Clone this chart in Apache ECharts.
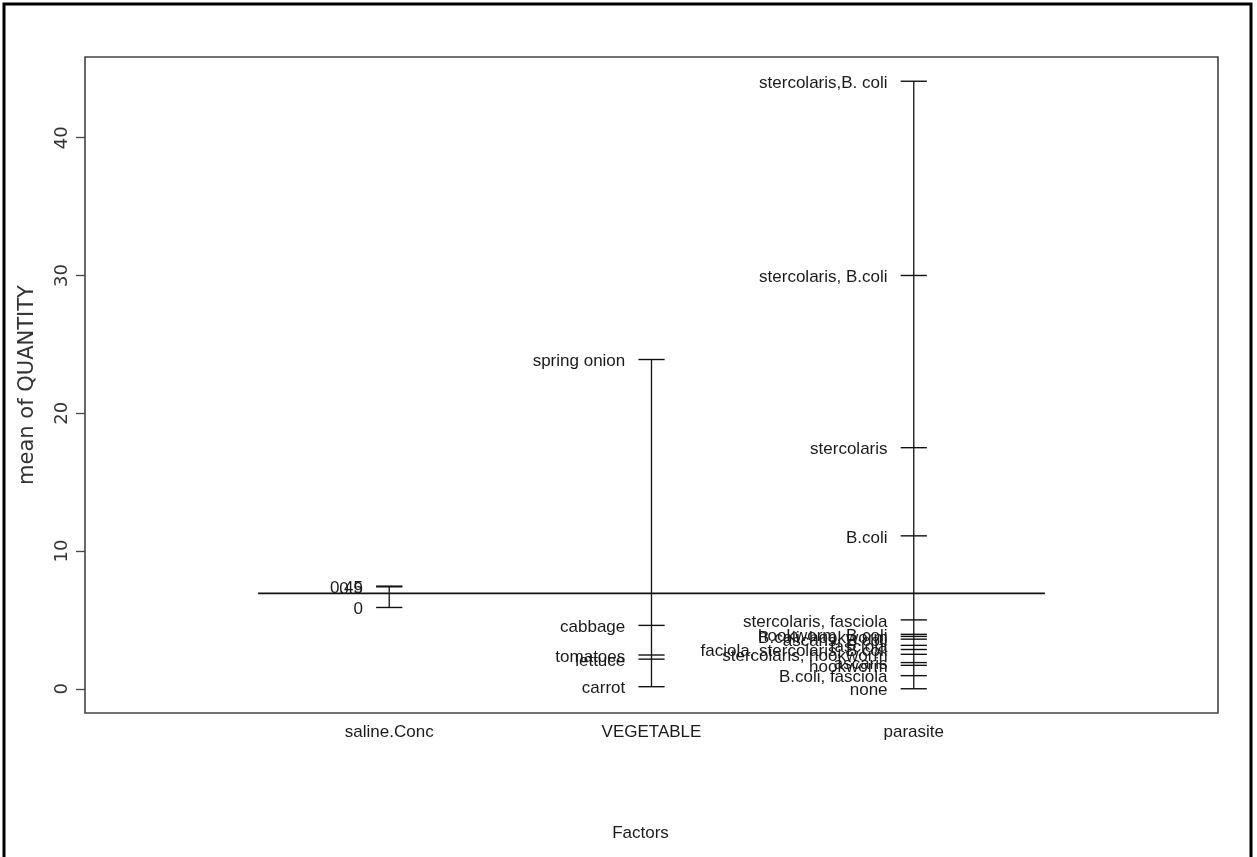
<!DOCTYPE html>
<html>
<head>
<meta charset="utf-8">
<script src="https://cdn.jsdelivr.net/npm/echarts@6/dist/echarts.min.js"></script>
<style>html,body{margin:0;padding:0;background:#fff}#c{width:1257px;height:857px}</style>
</head>
<body>
<div id="c"></div>
<script>
// ---- data ----
const factors = ['saline.Conc', 'VEGETABLE', 'parasite'];
const yTicks = [0, 10, 20, 30, 40];
const grandMean = 6.93;

const salineLevels = ['0.45', '0.9', '0'];
const salineMeans = [7.45, 7.4, 5.9];

const vegLevels = ['spring onion', 'cabbage', 'tomatoes', 'lettuce', 'carrot'];
const vegMeans = [23.9, 4.6, 2.45, 2.15, 0.15];

const parasiteLevels = ['stercolaris,B. coli', 'stercolaris, B.coli', 'stercolaris', 'B.coli',
  'stercolaris, fasciola', 'hookworm, B.coli', 'B.coli, hookworm', 'ascaris, B.coli', 'fasciola',
  'faciola, stercolaris, B.coli', 'stercolaris, hookworm', 'ascaris', 'hookworm', 'B.coli, fasciola', 'none'];
const parasiteMeans = [44.1, 30.0, 17.5, 11.1, 5.0, 3.95, 3.8, 3.6, 3.15, 2.85, 2.5, 1.9, 1.7, 0.95, 0.0];

// ---- build ----
const groups = [
  { levels: salineLevels, means: salineMeans },
  { levels: vegLevels, means: vegMeans },
  { levels: parasiteLevels, means: parasiteMeans }
];
const tickData = [];
const rangeSeries = [];
groups.forEach((g, i) => {
  const x = i + 1;
  g.means.forEach((m, j) => tickData.push([x, m, g.levels[j]]));
  rangeSeries.push({
    type: 'line', data: [[x, Math.min(...g.means)], [x, Math.max(...g.means)]],
    symbol: 'none', silent: true, lineStyle: { color: '#111', width: 1.3 }, z: 3
  });
});

const txtFont = "'Liberation Sans', Arial, sans-serif";
const wideFont = "'DejaVu Sans', sans-serif";
const chart = echarts.init(document.getElementById('c'), null, { renderer: 'canvas' });
chart.setOption({
  animation: false,
  backgroundColor: '#fff',
  graphic: [{
    type: 'rect', shape: { x: 4, y: 4, width: 1247, height: 880 },
    style: { fill: 'none', stroke: '#000', lineWidth: 3 }, silent: true
  }],
  grid: { left: 85, right: 39, top: 57, bottom: 144, show: true, borderColor: '#444', borderWidth: 1.6, backgroundColor: 'transparent' },
  xAxis: {
    type: 'value', min: -0.16, max: 4.16, position: 'bottom',
    splitLine: { show: false }, axisLine: { show: false, onZero: false }, axisTick: { show: false },
    axisLabel: {
      customValues: [1, 2, 3], formatter: v => factors[Math.round(v) - 1] || '',
      margin: 11, fontFamily: txtFont, fontSize: 17, color: '#1a1a1a'
    },
    name: 'Factors', nameLocation: 'middle', nameGap: 112,
    nameTextStyle: { fontFamily: txtFont, fontSize: 17, color: '#1a1a1a', padding: [0, 22, 0, 0] }
  },
  yAxis: {
    type: 'value', min: -1.76, max: 45.86, position: 'left',
    splitLine: { show: false }, axisLine: { show: false, onZero: false },
    axisTick: { show: true, customValues: yTicks, length: 9, lineStyle: { color: '#444', width: 1.3 } },
    axisLabel: {
      customValues: yTicks, rotate: 90, margin: 14,
      fontFamily: wideFont, fontSize: 18, color: '#333'
    },
    name: 'mean of QUANTITY', nameLocation: 'middle', nameRotate: 90, nameGap: 47,
    nameTextStyle: { fontFamily: wideFont, fontSize: 21, color: '#333' }
  },
  series: [
    {
      type: 'line', data: [[0.5, grandMean], [3.5, grandMean]], symbol: 'none', silent: true,
      lineStyle: { color: '#111', width: 1.8 }, z: 3
    },
    ...rangeSeries,
    {
      type: 'custom', data: tickData, silent: true, z: 4,
      renderItem: function (params, api) {
        const x = api.value(0), y = api.value(1);
        const p1 = api.coord([x - 0.05, y]);
        const p2 = api.coord([x + 0.05, y]);
        const pt = api.coord([x - 0.1, y]);
        return {
          type: 'group',
          children: [
            { type: 'line', shape: { x1: p1[0], y1: p1[1], x2: p2[0], y2: p2[1] }, style: { stroke: '#111', lineWidth: 1.4 } },
            { type: 'text', x: pt[0], y: pt[1] + 2, style: {
                text: tickData[params.dataIndex][2], align: 'right', verticalAlign: 'middle',
                font: "17px " + txtFont, fill: '#1a1a1a' } }
          ]
        };
      }
    }
  ]
});
</script>
</body>
</html>
